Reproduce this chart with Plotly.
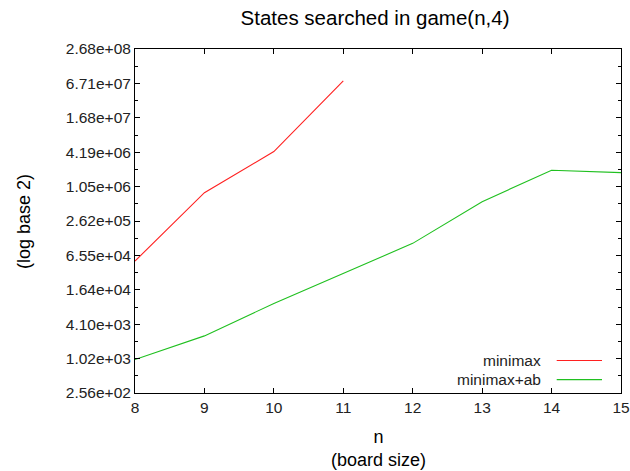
import math
import plotly.graph_objects as go

# Data
n_minimax = [8, 9, 10, 11]
minimax = [52150, 821500, 4.30e6, 7.45e7]
n_ab = [8, 9, 10, 11, 12, 13, 14, 15]
minimax_ab = [985, 2557, 9450, 31700, 106500, 571000, 2.03e6, 1.84e6]

y_tickvals = [256 * 4 ** k for k in range(11)]
y_ticktext = ["2.56e+02", "1.02e+03", "4.10e+03", "1.64e+04", "6.55e+04", "2.62e+05",
              "1.05e+06", "4.19e+06", "1.68e+07", "6.71e+07", "2.68e+08"]
y_minor = [512 * 4 ** k for k in range(10)]
x_tickvals = list(range(8, 16))

series_names = ["minimax", "minimax+ab"]
colors = ["#ff2020", "#20c020"]

FONT = "Liberation Sans, Arial, sans-serif"

fig = go.Figure()
fig.add_trace(go.Scatter(x=n_minimax, y=minimax, mode="lines", name=series_names[0],
                         line=dict(color=colors[0], width=1.1)))
fig.add_trace(go.Scatter(x=n_ab, y=minimax_ab, mode="lines", name=series_names[1],
                         line=dict(color=colors[1], width=1.1)))

fig.update_layout(
    width=630, height=471,
    margin=dict(l=135, r=9, t=49, b=78, autoexpand=False),
    paper_bgcolor="white", plot_bgcolor="white",
    showlegend=False,
    font=dict(family=FONT, size=15.5, color="#000000"),
    title=dict(text="States searched in game(n,4)", x=375 / 630, xanchor="center",
               y=1 - 17.5 / 471, yanchor="middle", font=dict(size=20.5, family=FONT, color="#000")),
    xaxis=dict(range=[8, 15], tickvals=x_tickvals, ticks="inside", ticklen=5,
               tickcolor="#000", showline=True, linecolor="#000", linewidth=1,
               mirror="ticks", showgrid=False, zeroline=False, automargin=False,
               tickfont=dict(size=15.5, color="#222")),
    yaxis=dict(type="log", range=[math.log10(256), math.log10(268435456)],
               tickvals=y_tickvals, ticktext=y_ticktext, ticks="inside", ticklen=5,
               tickcolor="#000", showline=True, linecolor="#000", linewidth=1,
               mirror="ticks", showgrid=False, zeroline=False, automargin=False,
               tickfont=dict(size=15.5, color="#222"),
               minor=dict(tickvals=y_minor, ticks="inside", ticklen=3, tickcolor="#000")),
)

# Axis titles
fig.add_annotation(text="(log base 2)", xref="paper", yref="paper",
                   x=-(135 - 23.5) / 486, y=(392.7 - 221.5) / 343.4,
                   textangle=-90, showarrow=False, font=dict(size=18, family=FONT, color="#000"),
                   xanchor="center", yanchor="middle")
fig.add_annotation(text="n<br>(board size)", xref="paper", yref="paper",
                   x=(378 - 135) / 486, y=-(448 - 392.7) / 343.4,
                   showarrow=False, font=dict(size=18, family=FONT, color="#000"),
                   xanchor="center", yanchor="middle")

# Legend in gnuplot style (text left, sample right)
leg_y = [(392.7 - 360.3) / 343.4, (392.7 - 379.3) / 343.4]
for name, col, yy in zip(series_names, colors, leg_y):
    fig.add_annotation(text=name, xref="paper", yref="paper", x=(543 - 135) / 486, y=yy,
                       xanchor="right", yanchor="middle", showarrow=False,
                       font=dict(size=15.5, family=FONT, color="#222"))
    fig.add_shape(type="line", xref="paper", yref="paper",
                  x0=(556.7 - 135) / 486, x1=(602 - 135) / 486, y0=yy, y1=yy,
                  line=dict(color=col, width=1.1))

fig.write_html("out.html")
